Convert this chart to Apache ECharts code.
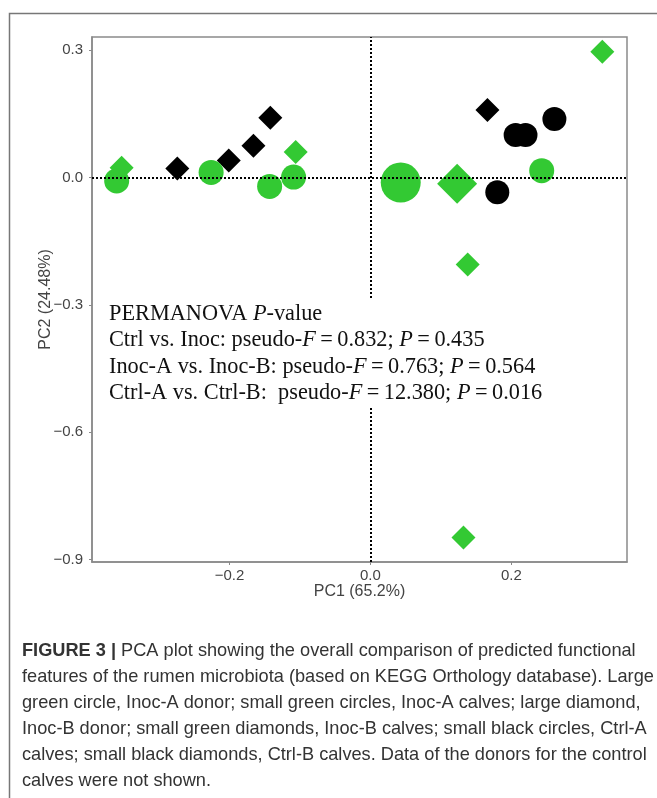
<!DOCTYPE html>
<html>
<head>
<meta charset="utf-8">
<script src="https://cdn.jsdelivr.net/npm/echarts@6/dist/echarts.min.js"></script>
<style>
html,body{margin:0;padding:0;background:#fff;}
#chart{width:657px;height:798px;}
</style>
</head>
<body>
<div id="chart"></div>
<script>
// ---- data (PC1, PC2) ----
const inocADonor  = [[0.043, -0.012]];
const inocACalves = [[-0.360, -0.008], [-0.226, 0.012], [-0.143, -0.021], [-0.109, 0.001], [0.243, 0.016]];
const inocBDonor  = [[0.123, -0.015]];
const inocBCalves = [[-0.353, 0.023], [-0.106, 0.060], [0.138, -0.205], [0.329, 0.296], [0.132, -0.848]];
const ctrlACalves = [[0.206, 0.100], [0.220, 0.100], [0.261, 0.138], [0.180, -0.035]];
const ctrlBCalves = [[-0.274, 0.021], [-0.201, 0.040], [-0.166, 0.075], [-0.142, 0.141], [0.166, 0.159]];

const xTicks = [-0.2, 0.0, 0.2];
const yTicks = [-0.9, -0.6, -0.3, 0.0, 0.3];
const xRange = [-0.395, 0.364];
const yRange = [-0.906, 0.331];

const statLines = [
  'PERMANOVA {i|P}-value',
  'Ctrl vs. Inoc: pseudo-{i|F}\u2009=\u20090.832; {i|P}\u2009=\u20090.435',
  'Inoc-A vs. Inoc-B: pseudo-{i|F}\u2009=\u20090.763; {i|P}\u2009=\u20090.564',
  'Ctrl-A vs. Ctrl-B:  pseudo-{i|F}\u2009=\u200912.380; {i|P}\u2009=\u20090.016'
];
const captionLines = [
  '{b|FIGURE 3 |} PCA plot showing the overall comparison of predicted functional',
  'features of the rumen microbiota (based on KEGG Orthology database). Large',
  'green circle, Inoc-A donor; small green circles, Inoc-A calves; large diamond,',
  'Inoc-B donor; small green diamonds, Inoc-B calves; small black circles, Ctrl-A',
  'calves; small black diamonds, Ctrl-B calves. Data of the donors for the control',
  'calves were not shown.'
];

const GREEN = '#33c933';
const fmt = v => (v < 0 ? '\u2212' : '') + Math.abs(v).toFixed(1);

const chart = echarts.init(document.getElementById('chart'), null, {renderer: 'canvas'});
const axisCommon = {
  axisLine: {show: true, onZero: false, lineStyle: {color: '#8a8a8a', width: 1.5}},
  axisTick: {show: true, length: 3, lineStyle: {color: '#8a8a8a'}},
  splitLine: {show: false},
  axisLabel: {color: '#444', fontFamily: 'Liberation Sans', fontSize: 15, formatter: fmt},
  nameTextStyle: {color: '#444', fontFamily: 'Liberation Sans', fontSize: 16},
  nameMoveOverlap: false
};
const option = {
  animation: false,
  backgroundColor: '#fff',
  grid: {left: 92, right: 30, top: 37, bottom: 236, show: true, borderColor: '#8a8a8a', borderWidth: 1.5, containLabel: false},
  xAxis: Object.assign({}, axisCommon, {
    type: 'value', min: xRange[0], max: xRange[1],
    name: 'PC1 (65.2%)', nameLocation: 'middle', nameGap: 22,
    axisTick: Object.assign({}, axisCommon.axisTick, {customValues: xTicks}),
    axisLabel: Object.assign({}, axisCommon.axisLabel, {customValues: xTicks, margin: 6})
  }),
  yAxis: Object.assign({}, axisCommon, {
    type: 'value', min: yRange[0], max: yRange[1],
    name: 'PC2 (24.48%)', nameLocation: 'middle', nameGap: 38,
    axisTick: Object.assign({}, axisCommon.axisTick, {customValues: yTicks}),
    axisLabel: Object.assign({}, axisCommon.axisLabel, {customValues: yTicks, margin: 9})
  }),
  series: [
    {type: 'scatter', name: 'Ctrl-B calves', data: ctrlBCalves, symbol: 'diamond', symbolSize: 24, itemStyle: {color: '#000', opacity: 1}, z: 2},
    {type: 'scatter', name: 'Ctrl-A calves', data: ctrlACalves, symbol: 'circle', symbolSize: 24, itemStyle: {color: '#000', opacity: 1}, z: 2},
    {type: 'scatter', name: 'Inoc-B calves', data: inocBCalves, symbol: 'diamond', symbolSize: 24, itemStyle: {color: GREEN, opacity: 1}, z: 2},
    {type: 'scatter', name: 'Inoc-A calves', data: inocACalves, symbol: 'circle', symbolSize: 25, itemStyle: {color: GREEN, opacity: 1}, z: 3},
    {type: 'scatter', name: 'Inoc-B donor', data: inocBDonor, symbol: 'diamond', symbolSize: 40, itemStyle: {color: GREEN, opacity: 1}, z: 3},
    {type: 'scatter', name: 'Inoc-A donor', data: inocADonor, symbol: 'circle', symbolSize: 40, itemStyle: {color: GREEN, opacity: 1}, z: 3},
    {type: 'line', data: [], z: 10, silent: true,
      markLine: {silent: true, symbol: 'none', label: {show: false}, z: 10,
        lineStyle: {color: '#000', type: [2, 2], width: 2},
        data: [{xAxis: 0}, {yAxis: 0}]}}
  ],
  graphic: [
    {type: 'rect', left: 7, top: 11, z: 0, silent: true,
      shape: {width: 700, height: 820}, style: {fill: 'none', stroke: '#777', lineWidth: 1.5}},
    {type: 'rect', left: 103, top: 300, z: 50, silent: true,
      shape: {width: 445, height: 108}, style: {fill: '#fff'}},
    {type: 'text', left: 109, top: 301, z: 60, silent: true,
      style: {text: statLines.join('\n'), fill: '#111', font: '22.3px "Liberation Serif"', lineHeight: 26.3,
        rich: {i: {fontFamily: 'Liberation Serif', fontSize: 22.3, fontStyle: 'italic', fill: '#111', lineHeight: 26.3}}}},
    {type: 'text', left: 22, top: 638, z: 60, silent: true,
      style: {text: captionLines.join('\n'), fill: '#333', font: '18.2px "Liberation Sans"', lineHeight: 26,
        rich: {b: {fontFamily: 'Liberation Sans', fontSize: 18.2, fontWeight: 'bold', fill: '#333', lineHeight: 26}}}}
  ]
};
chart.setOption(option);
</script>
</body>
</html>
